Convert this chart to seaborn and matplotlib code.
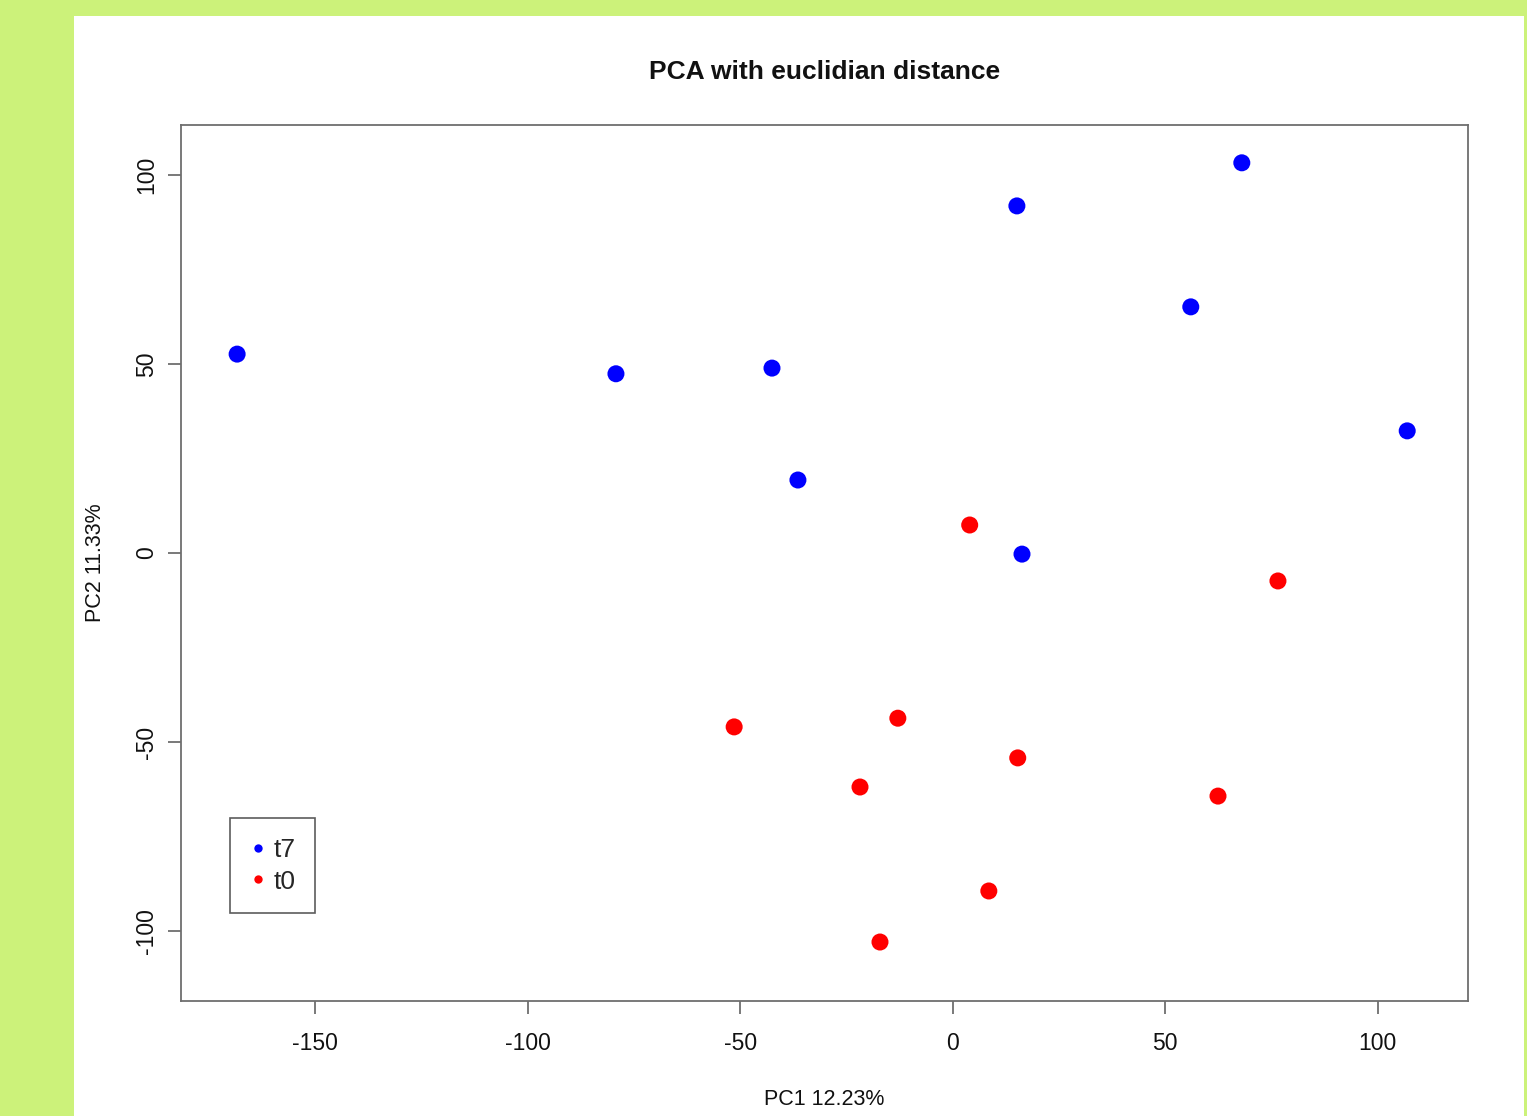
import matplotlib
matplotlib.use("Agg")
import matplotlib.pyplot as plt
import seaborn as sns
import pandas as pd
from matplotlib.patches import Rectangle
from matplotlib.lines import Line2D

# PCA scores
t7_pc1 = [-168.3, -79.2, -42.5, -36.4, 15.1, 16.3, 68.0, 56.0, 106.9]
t7_pc2 = [52.6, 47.4, 48.9, 19.3, 91.8, -0.3, 103.2, 65.1, 32.3]
t0_pc1 = [4.0, 76.5, -51.4, -12.9, -21.8, 15.3, 62.4, 8.5, -17.1]
t0_pc2 = [7.4, -7.4, -46.0, -43.7, -61.9, -54.2, -64.3, -89.4, -102.9]
groups = ["t7", "t0"]
colors = {"t7": "#0000ff", "t0": "#ff0000"}

df = pd.DataFrame({
    "PC1": t7_pc1 + t0_pc1,
    "PC2": t7_pc2 + t0_pc2,
    "group": ["t7"] * len(t7_pc1) + ["t0"] * len(t0_pc1),
})

sns.set_style("white")
plt.rcParams["font.family"] = ["Liberation Sans", "DejaVu Sans"]

W, H = 1527, 1116
fig = plt.figure(figsize=(W / 100, H / 100), dpi=100, facecolor="#ccf27a")
# white panel inside the green frame
fig.patches.append(Rectangle((74 / W, 0), (1524 - 74) / W, (H - 16) / H,
                             transform=fig.transFigure, facecolor="white",
                             edgecolor="none", zorder=-10))

ax = fig.add_axes([181 / W, (H - 1001) / H, (1468 - 181) / W, (1001 - 125) / H])
ax.set_facecolor("white")

sns.scatterplot(data=df, x="PC1", y="PC2", hue="group", palette=colors,
                s=150, edgecolor="none", legend=False, ax=ax)

ax.set_xlim(-181.5, 121.2)
ax.set_ylim(-118.5, 113.2)
ax.set_xticks([-150, -100, -50, 0, 50, 100])
ax.set_yticks([-100, -50, 0, 50, 100])
ax.set_xticklabels(["-150", "-100", "-50", "0", "50", "100"])
ax.set_yticklabels(["-100", "-50", "0", "50", "100"], rotation=90, va="center")

for sp in ax.spines.values():
    sp.set_color("#6e6e6e")
    sp.set_linewidth(1.3)
ax.tick_params(axis="both", bottom=True, left=True, direction="out",
               length=9.5, width=1.3, color="#6e6e6e", labelsize=16.5,
               labelcolor="#111111")
ax.tick_params(axis="x", pad=13)
ax.tick_params(axis="y", pad=7)

ax.set_xlabel("PC1 12.23%", fontsize=15.5, labelpad=24, color="#111111")
ax.set_ylabel("PC2 11.33%", fontsize=15.5, labelpad=21, color="#111111")
ax.set_title("PCA with euclidian distance", fontsize=19, fontweight="bold",
             pad=33, color="#111111")

handles = [Line2D([0], [0], marker="o", linestyle="none", markersize=6,
                  markerfacecolor=colors[g], markeredgecolor="none", label=g)
           for g in groups]
leg = ax.legend(handles=handles, loc="lower left", bbox_to_anchor=(0.038, 0.10),
                fontsize=19, frameon=True, fancybox=False, borderpad=0.75,
                handletextpad=0.3, handlelength=0.6, labelspacing=0.28,
                borderaxespad=0)
leg.get_frame().set_edgecolor("#333333")
leg.get_frame().set_linewidth(1.2)

fig.savefig("out.png", dpi=100, facecolor=fig.get_facecolor())
